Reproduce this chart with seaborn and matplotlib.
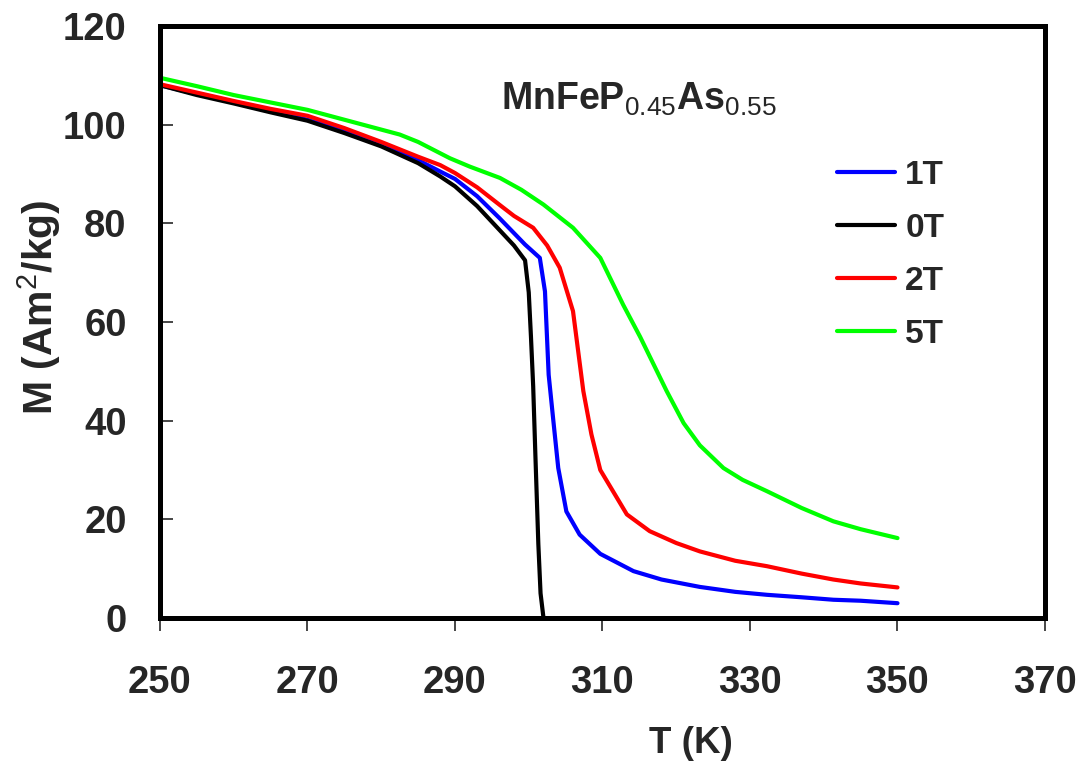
import numpy as np
import pandas as pd
import matplotlib
matplotlib.use("Agg")
import matplotlib.pyplot as plt
import seaborn as sns

# ---- data ----
t_0T = [250, 255, 260, 265, 270, 275, 280, 285, 288, 290, 293, 296, 298, 299.5,
        300, 300.3, 300.6, 300.9, 301.3, 301.6, 302]
m_0T = [108.0, 106.0, 104.3, 102.5, 100.8, 98.3, 95.6, 92.2, 89.5, 87.5, 83.5, 78.7,
        75.5, 72.5, 66, 57, 47, 33, 15, 5, 0]

t_1T = [250, 255, 260, 265, 270, 275, 280, 285, 288, 290, 293, 296, 299.5, 301.5,
        302.2, 302.7, 303.3, 304.0, 305.1, 306.9, 309.7, 314.2, 318, 323.2, 328,
        332.3, 337, 341.3, 345, 350]
m_1T = [108.0, 106.2, 104.5, 102.7, 101.0, 98.6, 96.0, 92.8, 90.5, 89.0, 85.5, 81.1,
        75.7, 73.0, 66.2, 49.3, 40.5, 30.4, 21.6, 16.9, 13.0, 9.5, 7.8, 6.3, 5.3,
        4.7, 4.2, 3.7, 3.5, 3.0]

t_2T = [250, 255, 260, 265, 270, 275, 280, 285, 288, 290, 293, 296, 298, 300.6,
        302.5, 304.2, 306.0, 306.7, 307.4, 308.5, 309.7, 311.5, 313.3, 316.4, 320,
        323.2, 328, 332.3, 337, 341.3, 345, 350]
m_2T = [108.2, 106.5, 104.8, 103.2, 101.8, 99.3, 96.5, 93.5, 91.8, 90.2, 87.3, 83.8,
        81.5, 79.1, 75.5, 71.0, 62.2, 54.1, 46.0, 37.2, 30.0, 25.5, 21.0, 17.6, 15.2,
        13.5, 11.6, 10.5, 9.0, 7.8, 7.0, 6.2]

t_5T = [250, 255, 260, 265, 270, 275, 280, 282.5, 285, 289.3, 292, 296.1, 299, 302,
        306, 309.7, 312.8, 315.1, 318.7, 321, 323.2, 326.4, 329, 332.3, 337, 341.3,
        345, 350]
m_5T = [109.5, 107.8, 106.0, 104.5, 103.0, 101.0, 99.0, 98.0, 96.5, 93.2, 91.5, 89.2,
        86.8, 83.8, 79.1, 73.0, 63.5, 57.0, 46.0, 39.5, 35.0, 30.4, 28.0, 25.7, 22.3,
        19.6, 18.0, 16.2]

series_order = ["1T", "0T", "2T", "5T"]
colors = {"1T": "#0000FF", "0T": "#000000", "2T": "#FF0000", "5T": "#00FF00"}

x_ticks = [250, 270, 290, 310, 330, 350, 370]
y_ticks = [0, 20, 40, 60, 80, 100, 120]

frames = []
for name, t, m in [("1T", t_1T, m_1T), ("0T", t_0T, m_0T),
                   ("2T", t_2T, m_2T), ("5T", t_5T, m_5T)]:
    frames.append(pd.DataFrame({"T": t, "M": m, "field": name}))
df = pd.concat(frames, ignore_index=True)

# ---- style ----
sns.set_style("white")
plt.rcParams["font.family"] = ["Liberation Sans", "DejaVu Sans"]
plt.rcParams["mathtext.fontset"] = "custom"
plt.rcParams["mathtext.rm"] = "Liberation Sans"
plt.rcParams["mathtext.it"] = "Liberation Sans:italic"
plt.rcParams["mathtext.bf"] = "Liberation Sans:bold"

fig = plt.figure(figsize=(10.85, 7.67), dpi=100)
ax = fig.add_axes([160 / 1085, 1 - 618 / 767, (1045 - 160) / 1085, (618 - 26) / 767])

sns.lineplot(data=df, x="T", y="M", hue="field", hue_order=series_order,
             palette=colors, estimator=None, sort=True, linewidth=3, ax=ax)

ax.set_xlim(250, 370)
ax.set_ylim(0, 120)
ax.set_xticks(x_ticks)
ax.set_yticks(y_ticks)
for s in ax.spines.values():
    s.set_visible(True)
    s.set_color("black")
    s.set_linewidth(3.6)
ax.tick_params(axis="x", direction="out", length=9, width=1.2, pad=25,
               labelsize=27.5, bottom=True)
ax.tick_params(axis="y", direction="in", length=9, width=1.2, pad=24,
               labelsize=27.5, left=True)
for lab in ax.get_xticklabels() + ax.get_yticklabels():
    lab.set_fontweight("bold")

ax.set_xlabel("T (K)", fontsize=26.5, fontweight="bold")
ax.xaxis.set_label_coords(0.6, -0.182)
ax.set_ylabel("M (Am$^{2}$/kg)", fontsize=29.5, fontweight="bold")
ax.yaxis.set_label_coords(-0.11, 0.525)

ax.text(0.385, 0.876, r"MnFeP$_{0.45}$As$_{0.55}$", transform=ax.transAxes,
        fontsize=27, fontweight="bold", ha="left", va="center")

leg = ax.legend(loc="upper left", bbox_to_anchor=(0.731, 0.825), frameon=False,
                fontsize=24, handlelength=1.75, handletextpad=0.3, labelspacing=0.66,
                title=None)
for txt in leg.get_texts():
    txt.set_fontweight("bold")
for line in leg.get_lines():
    line.set_linewidth(3)

fig.savefig("out.png", dpi=100)
